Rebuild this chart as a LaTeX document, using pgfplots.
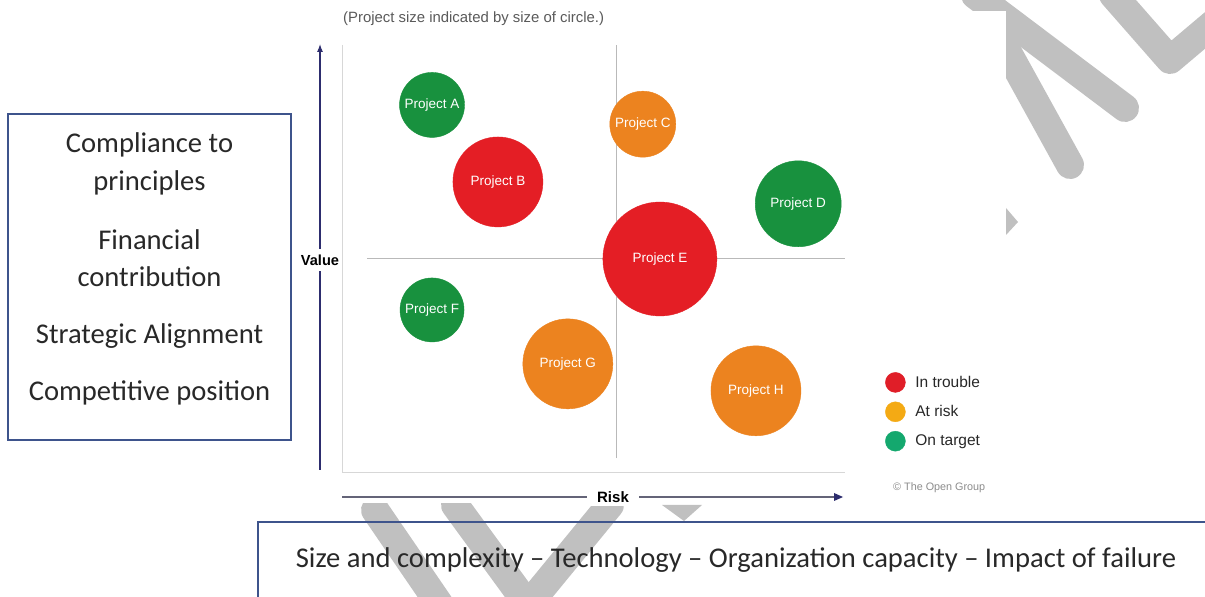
\documentclass[border=0pt]{standalone}
\usepackage{pgfplots}
\pgfplotsset{compat=1.18}
\usepackage{fontspec}
\setmainfont{Liberation Sans}
\newfontfamily\carlito{Carlito}
\usetikzlibrary{arrows.meta}
\definecolor{cgreen}{RGB}{24,145,62}
\definecolor{cred}{RGB}{228,30,37}
\definecolor{corange}{RGB}{236,131,31}
\definecolor{lred}{RGB}{224,30,40}
\definecolor{lorange}{RGB}{244,170,20}
\definecolor{lgreen}{RGB}{20,168,110}
\definecolor{navy}{RGB}{45,45,110}
\definecolor{hline}{RGB}{100,100,120}
\definecolor{boxblue}{RGB}{62,84,140}
\definecolor{framec}{RGB}{215,215,215}
\definecolor{crossc}{RGB}{185,185,185}
\definecolor{wm}{RGB}{192,192,192}
\definecolor{txt}{RGB}{40,40,40}
\definecolor{titlec}{RGB}{90,90,90}
\definecolor{copyc}{RGB}{140,140,140}
\begin{document}
\begin{tikzpicture}[x=1pt,y=1pt]
\useasboundingbox (0,0) rectangle (1205,597);
% watermark
\begin{scope}[draw=wm, line width=28, line cap=round, line join=round]
\draw (975,602) -- (1125,489);
\draw (1113,602) -- (1170,537) -- (1215,575);
\draw (990,577) -- (1070,432);
\draw (375,87) -- (440,-8);
\draw (455,92) -- (528,-8);
\draw (610,92) -- (528,-8);
\end{scope}
\fill[wm] (1006,389) -- (1018,375) -- (1006,362) -- cycle;
\fill[wm] (662,92) -- (702,92) -- (684,76) -- cycle;
\fill[white] (296,94) rectangle (1006,586);
% left box
\draw[boxblue, line width=1.5] (8,157) rectangle (291,483);
\begin{scope}[every node/.style={text=txt, font=\carlito\fontsize{28.6}{33}\selectfont, inner sep=0pt}]
\node at (149.5,452) {Compliance to};
\node at (149.5,414) {principles};
\node at (149.5,357) {Financial};
\node at (149.5,320) {contribution};
\node at (149.5,261) {Strategic Alignment};
\node at (149.5,204) {Competitive position};
\end{scope}
% bottom box
\draw[boxblue, line width=1.5] (258,-10) -- (258,75) -- (1215,75);
\node[text=txt, font=\carlito\fontsize{28.6}{33}\selectfont, inner sep=0pt] at (736,37) {Size and complexity – Technology – Organization capacity – Impact of failure};
% title
\node[anchor=west, text=titlec, font=\fontsize{14.9}{17}\selectfont, inner sep=0pt] at (343,578) {(Project size indicated by size of circle.)};
% axis arrows
\draw[navy, line width=1.1, -{Latex[length=8pt,width=6pt]}] (320,127) -- (320,553);
\node[fill=white, font=\bfseries\fontsize{14.6}{17}\selectfont, inner xsep=1pt, inner ysep=6pt] at (320,337) {Value};
\draw[hline, line width=1.1] (342,100) -- (836,100);
\fill[navy] (843,100) -- (834,104) -- (834,96) -- cycle;
\node[fill=white, font=\bfseries\fontsize{15}{17}\selectfont, inner xsep=10pt] at (613,100) {Risk};
\node[anchor=west, text=copyc, font=\fontsize{10.8}{13}\selectfont, inner sep=0pt] at (893,109) {\textcopyright\ The Open Group};
\begin{axis}[at={(342pt,124pt)}, anchor=south west, scale only axis,
  width=503pt, height=428pt, xmin=0, xmax=100, ymin=0, ymax=100,
  axis lines=none, clip=false,
  every node near coord/.append style={anchor=center, text=white, font=\fontsize{13.5}{16}\selectfont},
  legend cell align=left,
  legend style={at={(1.0795,0.236)}, anchor=north west, draw=none, fill=none,
    inner sep=0pt, row sep=9pt, column sep=0pt,
    nodes={inner sep=0pt, text=txt, font=\fontsize{15.5}{18}\selectfont}},
]
\draw[framec, line width=1] (axis cs:0,100) -- (axis cs:0,0) -- (axis cs:100,0);
\draw[crossc, line width=0.9] (axis cs:54.5,3.5) -- (axis cs:54.5,100);
\draw[crossc, line width=0.9] (axis cs:5,50.2) -- (axis cs:100,50.2);
\addplot[forget plot, only marks, mark=*, mark size=32.5pt, color=cgreen, nodes near coords={Project A}] coordinates {(17.9,86.0)};
\addplot[forget plot, only marks, mark=*, mark size=45pt, color=cred, nodes near coords={Project B}] coordinates {(31.0,68.0)};
\addplot[forget plot, only marks, mark=*, mark size=33pt, color=corange, nodes near coords={Project C}] coordinates {(59.8,81.5)};
\addplot[forget plot, only marks, mark=*, mark size=43pt, color=cgreen, nodes near coords={Project D}] coordinates {(90.7,62.9)};
\addplot[forget plot, only marks, mark=*, mark size=57pt, color=cred, nodes near coords={Project E}] coordinates {(63.2,50.0)};
\addplot[forget plot, only marks, mark=*, mark size=32pt, color=cgreen, nodes near coords={Project F}] coordinates {(17.9,38.1)};
\addplot[forget plot, only marks, mark=*, mark size=45pt, color=corange, nodes near coords={Project G}] coordinates {(44.9,25.5)};
\addplot[forget plot, only marks, mark=*, mark size=45pt, color=corange, nodes near coords={Project H}] coordinates {(82.3,19.2)};
\addlegendimage{legend image code/.code={\fill[lred] (10pt,0pt) circle (10pt); \path[draw=none] (0pt,0pt) -- (30pt,0pt);}}
\addlegendentry{In trouble}
\addlegendimage{legend image code/.code={\fill[lorange] (10pt,0pt) circle (10pt); \path[draw=none] (0pt,0pt) -- (30pt,0pt);}}
\addlegendentry{At risk}
\addlegendimage{legend image code/.code={\fill[lgreen] (10pt,0pt) circle (10pt); \path[draw=none] (0pt,0pt) -- (30pt,0pt);}}
\addlegendentry{On target}
\end{axis}
\end{tikzpicture}
\end{document}
